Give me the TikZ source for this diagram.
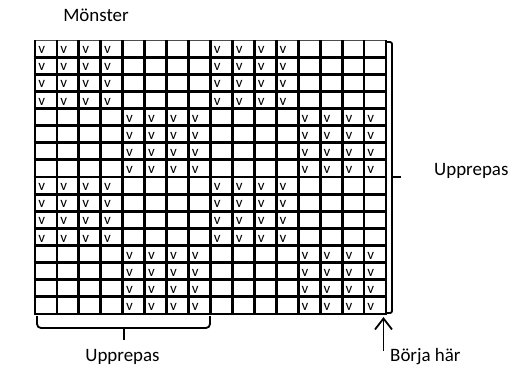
\documentclass[tikz,border=0pt]{standalone}
\usepackage{fontspec}
\setmainfont{Carlito}
\usetikzlibrary{arrows.meta}
\begin{document}
\begin{tikzpicture}[x=1bp,y=-1bp,
  gridline/.style={line width=2.8bp},
  topline/.style={line width=1bp, black!70},
  bracket/.style={line width=1.8bp, rounded corners=2bp},
  stitch/.style={anchor=base west, inner sep=0pt, font=\fontsize{15}{15}\selectfont},
  label/.style={inner sep=0pt, font=\fontsize{19}{22}\selectfont}]
\useasboundingbox (0,0) rectangle (513,367);
% chart geometry: 16 x 16 cells
\def\gx{35}\def\gy{40}\def\cw{21.9375}\def\rh{17.125}
% stitch marks: blocks of 4x4 alternating
\foreach \r in {0,...,15}{
  \foreach \c in {0,...,15}{
    \pgfmathtruncatemacro{\on}{mod(floor(\c/4),2)==mod(floor(\r/4),2)}
    \ifnum\on=1
      \node[stitch] (v-\r-\c) at ({\gx+\c*\cw+3.2},{\gy+(\r+1)*\rh-3.4}) {v};
    \fi
  }
}
% grid lines
\draw[topline] (\gx,\gy) -- ({\gx+16*\cw},\gy);
\foreach \r in {1,...,16}
  \draw[gridline] ({\gx-1.4},{\gy+\r*\rh}) -- ({\gx+16*\cw+1.4},{\gy+\r*\rh});
\foreach \c in {0,...,16}
  \draw[gridline] ({\gx+\c*\cw},\gy) -- ({\gx+\c*\cw},{\gy+16*\rh});
% labels
\node[label, anchor=base] (title) at (96,21.7) {Mönster};
\node[label, anchor=base west] (repright) at (434,175) {Upprepas};
\node[label, anchor=base] (repbottom) at (122.5,361) {Upprepas};
\node[label, anchor=base west] (start) at (390,361) {Börja här};
% right bracket
\coordinate (rb-top) at (386,42);
\coordinate (rb-bot) at (386,313);
\coordinate (rb-mid) at (392,177);
\coordinate (rb-tip) at (401,177);
\draw[bracket] (rb-top) -- (392,42) -- (392,313) -- (rb-bot);
\draw[line width=1.8bp] (rb-mid) -- (rb-tip);
% bottom bracket
\coordinate (bb-left) at (37,316);
\coordinate (bb-right) at (210,316);
\coordinate (bb-mid) at (123.5,328);
\coordinate (bb-tip) at (123.5,340);
\draw[bracket, rounded corners=4bp] (bb-left) -- (37,328) -- (210,328) -- (bb-right);
\draw[line width=2bp] (bb-mid) -- (bb-tip);
% start arrow
\coordinate (arr-foot) at (383.5,351);
\coordinate (arr-head) at (383.5,317);
\draw[line width=1.8bp, -{Straight Barb[length=11bp,width=17bp,line width=1.8bp]}] (arr-foot) -- (arr-head);
\end{tikzpicture}
\end{document}
